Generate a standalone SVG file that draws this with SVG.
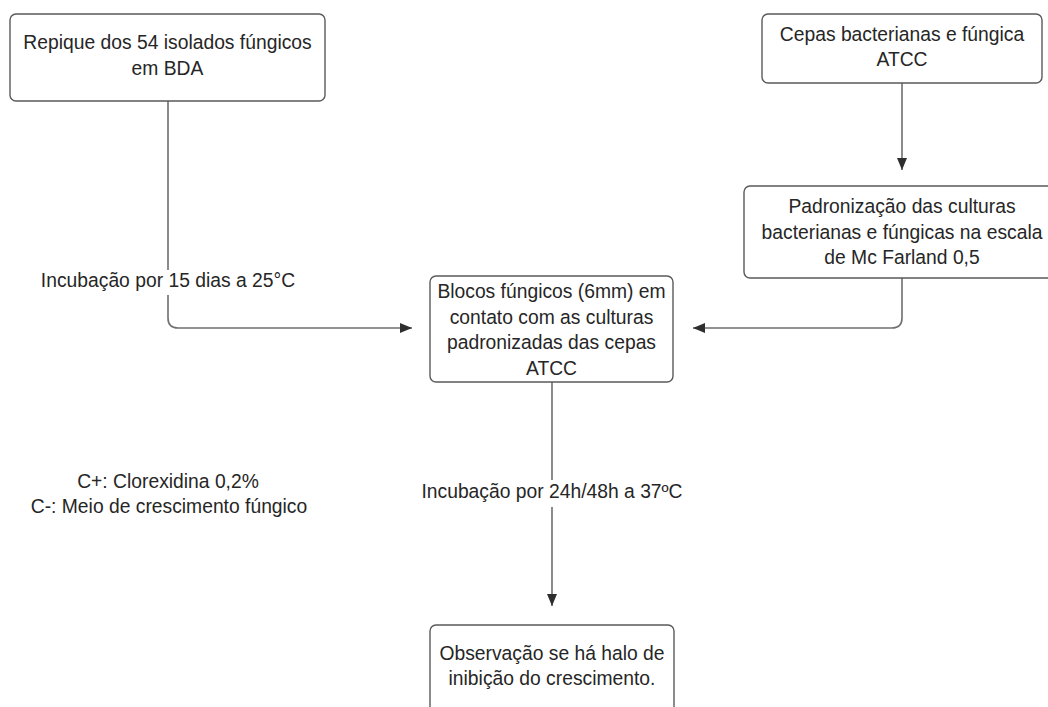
<svg xmlns="http://www.w3.org/2000/svg" width="1048" height="707" viewBox="0 0 1048 707">
<style>
.box{fill:#ffffff;stroke:#5a5a5a;stroke-width:1.4}
.t{font-family:"Liberation Sans",Arial,sans-serif;font-size:19.3px;fill:#262626;text-anchor:middle}
.c{fill:none;stroke:#6f6f6f;stroke-width:1.6}
.bg{fill:#ffffff}
</style>
<defs>
<marker id="ah" viewBox="0 0 12 10" refX="12" refY="5" markerWidth="12" markerHeight="10" markerUnits="userSpaceOnUse" orient="auto">
<path d="M0,0 L12,5 L0,10 Z" fill="#2e2e2e"/>
</marker>
</defs>
<rect width="1048" height="707" fill="#ffffff"/>
<g id="connectors">
<path class="c" d="M168,101 V318 Q168,328 178,328 H412" marker-end="url(#ah)"/>
<path class="c" d="M902,83 V170" marker-end="url(#ah)"/>
<path class="c" d="M902,278 V318 Q902,328 892,328 H693" marker-end="url(#ah)"/>
<path class="c" d="M552,382 V606" marker-end="url(#ah)"/>
</g>
<g id="label-incubacao-15">
<rect class="bg" x="40" y="270" width="256" height="25"/>
<text class="t" x="168" y="287">Incubação por 15 dias a 25°C</text>
</g>
<g id="label-incubacao-24">
<rect class="bg" x="421" y="480" width="263" height="27"/>
<text class="t" x="552" y="498">Incubação por 24h/48h a 37ºC</text>
</g>
<g id="node-repique">
<rect class="box" x="10" y="14" width="315" height="87" rx="6"/>
<text class="t" x="167.5" y="49">Repique dos 54 isolados fúngicos</text>
<text class="t" x="167.5" y="75">em BDA</text>
</g>
<g id="node-cepas">
<rect class="box" x="762" y="14" width="280" height="69" rx="6"/>
<text class="t" x="902" y="41">Cepas bacterianas e fúngica</text>
<text class="t" x="902" y="66">ATCC</text>
</g>
<g id="node-padronizacao">
<rect class="box" x="744" y="186" width="316" height="92" rx="6"/>
<text class="t" x="902" y="213">Padronização das culturas</text>
<text class="t" x="902" y="238.5">bacterianas e fúngicas na escala</text>
<text class="t" x="902" y="264">de Mc Farland 0,5</text>
</g>
<g id="node-blocos">
<rect class="box" x="430" y="276" width="243" height="106" rx="6"/>
<text class="t" x="551.5" y="298">Blocos fúngicos (6mm) em</text>
<text class="t" x="551.5" y="323.5">contato com as culturas</text>
<text class="t" x="551.5" y="349">padronizadas das cepas</text>
<text class="t" x="551.5" y="374.5">ATCC</text>
</g>
<g id="node-observacao">
<rect class="box" x="430" y="625" width="244" height="100" rx="6"/>
<text class="t" x="552" y="660">Observação se há halo de</text>
<text class="t" x="552" y="685">inibição do crescimento.</text>
</g>
<g id="note-controles">
<text class="t" x="168" y="488">C+: Clorexidina 0,2%</text>
<text class="t" x="169" y="513">C-: Meio de crescimento fúngico</text>
</g>
</svg>
